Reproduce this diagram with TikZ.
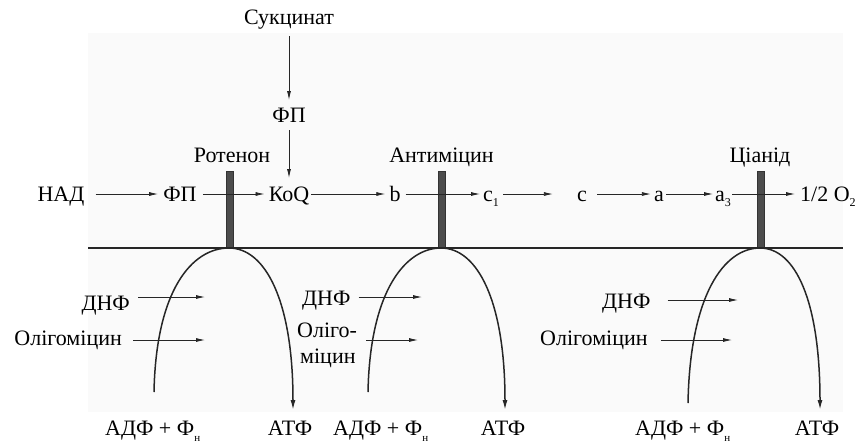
\documentclass[tikz,border=0pt]{standalone}
\usepackage{fontspec}
\setmainfont{Liberation Serif}
\usetikzlibrary{arrows.meta}
\newcommand\lsub[1]{\raisebox{-5pt}{\fontsize{12}{12}\selectfont #1}}
\newcommand\dsub[1]{\raisebox{-6pt}{\fontsize{11}{11}\selectfont #1}}
\begin{document}
\begin{tikzpicture}[x=1pt,y=-1pt,
  lbl/.style={font=\fontsize{22}{25}\selectfont, inner sep=0pt, anchor=base},
  lblw/.style={lbl, anchor=base west},
  lble/.style={lbl, anchor=base east},
  arr/.style={draw=black!85, line width=0.8pt, -{Latex[length=9pt,width=4pt]}},
  bar/.style={fill=black!70, draw=black!80, line width=0.3pt, inner sep=0pt, minimum width=7pt, minimum height=77pt},
  loopline/.style={draw=black!85, line width=1.5pt},
  looparr/.style={loopline, -{Latex[length=10pt,width=5pt]}},
  membrane/.style={draw=black!85, line width=2.6pt},
]
\useasboundingbox (0,0) rectangle (861,445);
\fill[black!2] (88,33) rectangle (843,412);

% top labels
\node[lbl] (succ) at (289,24.5) {Сукцинат};
\node[lbl] (fp2) at (289,122) {ФП};
\node[lbl] (rot) at (232,162) {Ротенон};
\node[lbl] (anti) at (441.5,162) {Антиміцин};
\node[lbl] (cyan) at (760,162) {Ціанід};

% inhibitor bars
\node[bar] (bar1) at (230,209.5) {};
\node[bar] (bar2) at (442,209.5) {};
\node[bar] (bar3) at (761,209.5) {};

% membrane
\coordinate (mL) at (88,248);
\coordinate (mR) at (843,248);
\draw[membrane] (mL) -- (mR);

% chain
\node[lbl] (nad) at (61,201.5) {НАД};
\node[lbl] (fp1) at (180,201.5) {ФП};
\node[lbl] (koq) at (289,201.5) {КоQ};
\node[lbl] (b) at (395,201.5) {b};
\node[lblw] (c1) at (483,201.5) {c\lsub{1}};
\node[lbl] (c) at (582,201.5) {c};
\node[lbl] (a) at (659,201.5) {a};
\node[lblw] (a3) at (715,201.5) {a\lsub{3}};
\node[lblw] (o2) at (800,201.5) {1/2 O\lsub{2}};

\draw[arr] ([yshift=-11.5pt]succ.base) -- ([yshift=22pt]fp2.base);
\draw[arr] ([yshift=-8pt]fp2.base) -- ([yshift=23.5pt]koq.base);

\draw[arr] ([xshift=11pt,yshift=7.5pt]nad.base east) -- ([xshift=-5pt,yshift=7.5pt]fp1.base west);
\draw[arr] ([xshift=6pt,yshift=7.5pt]fp1.base east) -- ([xshift=-4pt,yshift=7.5pt]koq.base west);
\draw[arr] ([xshift=2pt,yshift=7.5pt]koq.base east) -- ([xshift=-4pt,yshift=7.5pt]b.base west);
\draw[arr] ([xshift=5pt,yshift=7.5pt]b.base east) -- ([xshift=-3pt,yshift=7.5pt]c1.base west);
\draw[arr] ([xshift=4pt,yshift=7.5pt]c1.base east) -- ([xshift=-24pt,yshift=7.5pt]c.base west);
\draw[arr] ([xshift=10pt,yshift=7.5pt]c.base east) -- ([xshift=-3pt,yshift=7.5pt]a.base west);
\draw[arr] ([xshift=2pt,yshift=7.5pt]a.base east) -- ([xshift=-2pt,yshift=7.5pt]a3.base west);
\draw[arr] ([xshift=1pt,yshift=7.5pt]a3.base east) -- ([xshift=-5pt,yshift=7.5pt]o2.base west);

% phosphorylation loops
\coordinate (l1s) at (154,392);
\coordinate (l1t) at (229,248);
\coordinate (l1e) at (293,410);
\draw[looparr] (l1s) .. controls (156,290) and (192,248) .. (l1t)
  .. controls (265,248) and (293,300) .. (l1e);
\coordinate (l2s) at (368,392);
\coordinate (l2t) at (441,248);
\coordinate (l2e) at (505,410);
\draw[looparr] (l2s) .. controls (370,290) and (406,248) .. (l2t)
  .. controls (477,248) and (505,300) .. (l2e);
\coordinate (l3s) at (688,403);
\coordinate (l3t) at (760,248);
\coordinate (l3e) at (820,410);
\draw[looparr] (l3s) .. controls (690,295) and (724,248) .. (l3t)
  .. controls (795,248) and (820,300) .. (l3e);

% side labels, group 1
\node[lble] (dnf1) at (130,310) {ДНФ};
\node[lble] (olig1) at (122,345) {Олігоміцин};
\coordinate (dnf1e) at (205,297);
\coordinate (olig1e) at (205,340);
\draw[arr] ([xshift=8pt,yshift=13pt]dnf1.base east) -- (dnf1e);
\draw[arr] ([xshift=11pt,yshift=5pt]olig1.base east) -- (olig1e);

% group 2
\node[lblw] (dnf2) at (302,305) {ДНФ};
\node[lblw] (olig2) at (297,337) {Оліго-};
\node[lblw] (olig2b) at (300,363) {міцин};
\coordinate (dnf2e) at (422,297);
\coordinate (olig2e) at (418,340);
\draw[arr] ([xshift=8pt,yshift=8pt]dnf2.base east) -- (dnf2e);
\draw[arr] ([xshift=9pt,yshift=-3pt]olig2.base east) -- (olig2e);

% group 3
\node[lblw] (dnf3) at (602,308) {ДНФ};
\node[lblw] (olig3) at (540,345) {Олігоміцин};
\coordinate (dnf3e) at (738,300);
\coordinate (olig3e) at (732,340);
\draw[arr] ([xshift=17pt,yshift=8pt]dnf3.base east) -- (dnf3e);
\draw[arr] ([xshift=13pt,yshift=5pt]olig3.base east) -- (olig3e);

% bottom labels
\node[lblw] (adp1) at (105,435) {АДФ + Ф\dsub{н}};
\node[lbl] (atp1) at (290,435) {АТФ};
\node[lblw] (adp2) at (333,435) {АДФ + Ф\dsub{н}};
\node[lbl] (atp2) at (503,435) {АТФ};
\node[lblw] (adp3) at (635,435) {АДФ + Ф\dsub{н}};
\node[lbl] (atp3) at (817,435) {АТФ};
\end{tikzpicture}
\end{document}
